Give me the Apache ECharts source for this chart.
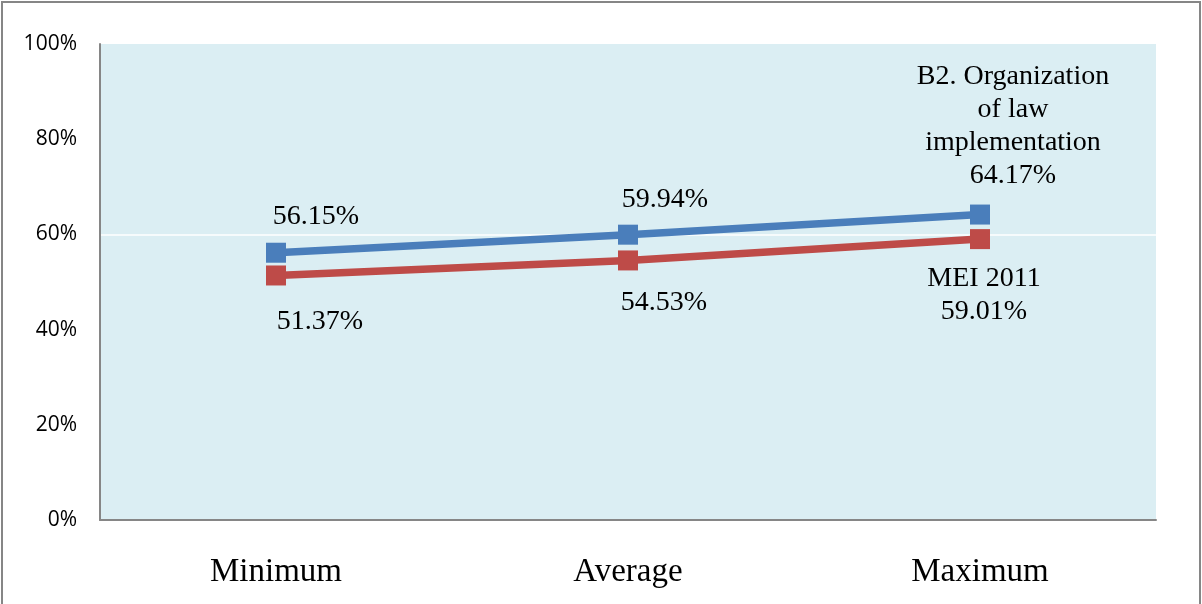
<!DOCTYPE html>
<html>
<head>
<meta charset="utf-8">
<script src="https://cdn.jsdelivr.net/npm/echarts@6/dist/echarts.min.js"></script>
<style>
  html, body { margin: 0; padding: 0; background: #fff; }
  #chart { width: 1202px; height: 604px; }
</style>
</head>
<body>
<div id="chart"></div>
<script>
// Categories and series values (percent)
const categories = ['Minimum', 'Average', 'Maximum'];
const seriesNames = ['B2. Organization of law implementation', 'MEI 2011'];
const b2Values = [56.15, 59.94, 64.17];
const meiValues = [51.37, 54.53, 59.01];
const yTicks = [0, 20, 40, 60, 80, 100];

// Label placement relative to each marker centre (px)
const b2LabelOffsets = [[40, -36], [37, -35], [33, -88]];
const meiLabelOffsets = [[44, 46], [36, 42], [4, 56]];
const b2WrappedName = 'B2. Organization\nof law\nimplementation';
const meiWrappedName = 'MEI 2011';

const serif = '"Liberation Serif", "Times New Roman", serif';

function buildData(values, offsets, wrappedName) {
  return values.map((v, i) => ({
    value: v,
    label: {
      offset: offsets[i],
      formatter: (i === values.length - 1 ? wrappedName + '\n' : '') + v.toFixed(2) + '%'
    }
  }));
}

function lineSeries(name, values, offsets, wrappedName, color) {
  return {
    name: name,
    type: 'line',
    data: buildData(values, offsets, wrappedName),
    symbol: 'rect',
    symbolSize: 20,
    lineStyle: { color: color, width: 7.5 },
    itemStyle: { color: color },
    label: {
      show: true,
      position: 'inside',
      align: 'center',
      verticalAlign: 'middle',
      fontFamily: serif,
      fontSize: 28,
      lineHeight: 33,
      color: '#000'
    },
    emphasis: { disabled: true },
    animation: false
  };
}

const chart = echarts.init(document.getElementById('chart'), null, { renderer: 'canvas' });
chart.setOption({
  backgroundColor: '#fff',
  animation: false,
  graphic: [{
    type: 'rect',
    shape: { x: 2, y: 2, width: 1198, height: 700 },
    style: { fill: 'none', stroke: '#868686', lineWidth: 2 },
    z: -1,
    silent: true
  }],
  grid: {
    left: 100, top: 44, right: 46, bottom: 84,
    show: true,
    backgroundColor: '#dbeef3',
    borderWidth: 0
  },
  xAxis: {
    type: 'category',
    data: categories,
    boundaryGap: true,
    axisLine: { show: true, lineStyle: { color: '#868686', width: 2 } },
    axisTick: { show: false },
    axisLabel: {
      fontFamily: serif,
      fontSize: 33,
      color: '#000',
      margin: 36
    },
    splitLine: { show: false }
  },
  yAxis: {
    type: 'value',
    min: yTicks[0],
    max: yTicks[yTicks.length - 1],
    interval: yTicks[1] - yTicks[0],
    axisLine: { show: true, lineStyle: { color: '#868686', width: 2 } },
    axisTick: { show: false },
    axisLabel: {
      fontFamily: '"Open Sans", Lato, sans-serif',
      fontSize: 21,
      color: '#000',
      margin: 23,
      formatter: v => v + '%'
    },
    splitLine: {
      show: true,
      lineStyle: {
        // only the 60% line is drawn, in white
        color: yTicks.map(t => (t === 60 ? '#ffffff' : 'rgba(0,0,0,0)')),
        width: 1.5
      }
    }
  },
  series: [
    lineSeries(seriesNames[0], b2Values, b2LabelOffsets, b2WrappedName, '#4a7ebb'),
    lineSeries(seriesNames[1], meiValues, meiLabelOffsets, meiWrappedName, '#be4b48')
  ]
});
</script>
</body>
</html>
